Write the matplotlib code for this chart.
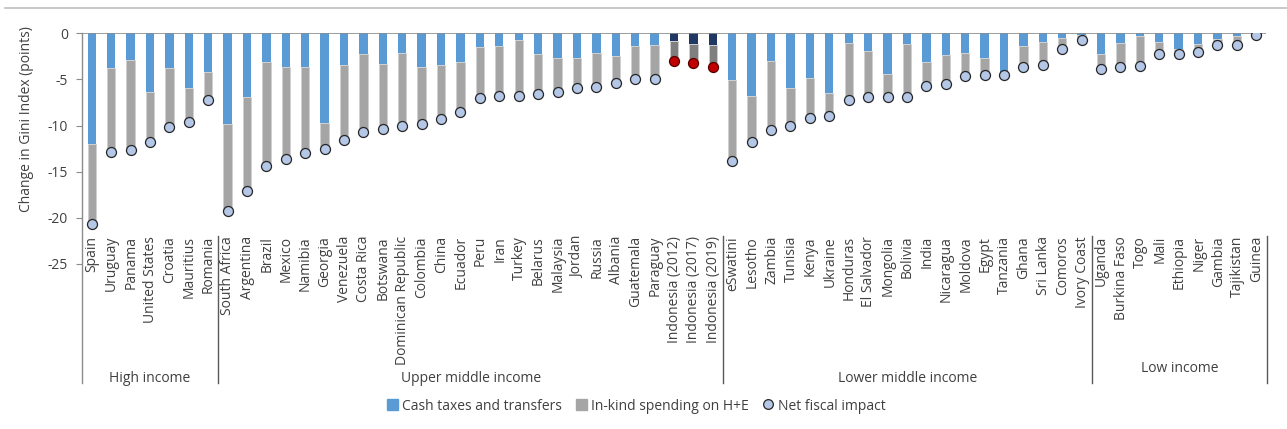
import matplotlib
matplotlib.use("Agg")
import matplotlib.pyplot as plt
from matplotlib.patches import Patch
from matplotlib.lines import Line2D

countries = ["Spain", "Uruguay", "Panama", "United States", "Croatia", "Mauritius", "Romania",
             "South Africa", "Argentina", "Brazil", "Mexico", "Namibia", "Georgia", "Venezuela",
             "Costa Rica", "Botswana", "Dominican Republic", "Colombia", "China", "Ecuador", "Peru",
             "Iran", "Turkey", "Belarus", "Malaysia", "Jordan", "Russia", "Albania", "Guatemala",
             "Paraguay", "Indonesia (2012)", "Indonesia (2017)", "Indonesia (2019)",
             "eSwatini", "Lesotho", "Zambia", "Tunisia", "Kenya", "Ukraine", "Honduras",
             "El Salvador", "Mongolia", "Bolivia", "India", "Nicaragua", "Moldova", "Egypt",
             "Tanzania", "Ghana", "Sri Lanka", "Comoros", "Ivory Coast",
             "Uganda", "Burkina Faso", "Togo", "Mali", "Ethiopia", "Niger", "Gambia",
             "Tajikistan", "Guinea"]

cash = [-12.0, -3.76, -2.9, -6.4, -3.76, -5.93, -4.2,
        -9.84, -6.9, -3.15, -3.65, -3.65, -9.73, -3.4, -2.25, -3.36, -2.17, -3.65, -3.4,
        -3.15, -1.49, -1.38, -0.76, -2.25, -2.64, -2.68, -2.14, -2.46, -1.41, -1.23,
        -0.84, -1.13, -1.27,
        -5.07, -6.83, -3.0, -5.97, -4.85, -6.51, -1.05, -1.92, -4.41, -1.16, -3.15, -2.39,
        -2.17, -2.64, -4.4, -1.38, -0.94, -0.47, -0.2,
        -2.25, -1.02, -0.26, -0.94, -1.7, -1.15, -0.6, -0.3, -0.05]

inkind = [-8.65, -9.14, -9.75, -5.35, -6.44, -3.65, -3.0,
          -9.46, -10.2, -11.25, -10.02, -9.35, -2.87, -8.17, -8.49, -7.02, -7.93, -6.19, -5.9,
          -5.42, -5.56, -5.42, -6.01, -4.37, -3.73, -3.29, -3.72, -2.9, -3.58, -3.69,
          -2.16, -2.09, -2.42,
          -8.83, -4.92, -7.45, -4.08, -4.3, -2.42, -6.15, -5.02, -2.46, -5.71, -2.57, -3.11,
          -2.43, -1.88, -0.09, -2.24, -2.53, -1.23, -0.56,
          -1.62, -2.6, -3.29, -1.31, -0.5, -0.85, -0.7, -0.93, -0.17]

net = [-20.65, -12.9, -12.65, -11.75, -10.2, -9.58, -7.2,
       -19.3, -17.1, -14.4, -13.67, -13.0, -12.6, -11.57, -10.74, -10.38, -10.1, -9.84, -9.3,
       -8.57, -7.05, -6.8, -6.77, -6.62, -6.37, -5.97, -5.86, -5.36, -4.99, -4.92,
       -3.0, -3.22, -3.69,
       -13.9, -11.75, -10.45, -10.05, -9.15, -8.93, -7.2, -6.94, -6.87, -6.87, -5.72, -5.5,
       -4.6, -4.52, -4.49, -3.62, -3.47, -1.7, -0.76,
       -3.87, -3.62, -3.55, -2.25, -2.2, -2.0, -1.3, -1.23, -0.22]

groups = ["High income", "Upper middle income", "Lower middle income", "Low income"]
group_sizes = [7, 26, 19, 9]
highlight = ["Indonesia (2012)", "Indonesia (2017)", "Indonesia (2019)"]
yticks = [0, -5, -10, -15, -20, -25]

W, H = 1287, 429
fig = plt.figure(figsize=(W / 100, H / 100), dpi=100)
plt.rcParams['font.family'] = ['Open Sans', 'DejaVu Sans']

def fx(px):
    return px / W

def fy(py):
    return 1 - py / H

ax_left, ax_right, ax_top, ax_bot = 82, 1266, 33.3, 263.8
ax = fig.add_axes([fx(ax_left), fy(ax_bot), fx(ax_right - ax_left), (ax_bot - ax_top) / H])

BLUE = "#5B9BD5"
GRAY = "#A5A5A5"
NAVY = "#203864"
DGRAY = "#7F7F7F"
CIRC = "#B4C7E7"
RED = "#C00000"
TXT = "#404040"

bw = 0.43
for i, c in enumerate(countries):
    hl = c in highlight
    ax.bar(i, cash[i], width=bw, color=NAVY if hl else BLUE, zorder=2, linewidth=0)
    ax.bar(i, inkind[i], bottom=cash[i], width=bw, color=DGRAY if hl else GRAY,
           zorder=2, edgecolor="#D0D0D0", linewidth=0.6)
    ax.plot(i, net[i], 'o', ms=7.2, mfc=RED if hl else CIRC,
            mec="#5a0000" if hl else "#262626", mew=0.9, zorder=4)

ax.set_xlim(-0.5, len(countries) - 0.5)
ax.set_ylim(-25, 0)
ax.axhline(0, color="#8C8C8C", lw=1.2, zorder=3)
ax.set_yticks(yticks)
ax.set_yticklabels([str(v) for v in yticks], fontsize=10, color=TXT)
ax.tick_params(axis='y', length=4, width=0.8, color="#8C8C8C", pad=6)
ax.set_xticks([])
for s in ["top", "right", "bottom", "left"]:
    ax.spines[s].set_visible(False)

# left axis line extending into category area
fig.add_artist(Line2D([fx(ax_left), fx(ax_left)], [fy(ax_top), fy(383)],
                      color="#8C8C8C", lw=1.0))

# category labels
x0, step = 92, (1257 - 92) / 60
for i, c in enumerate(countries):
    fig.text(fx(x0 + i * step), fy(236), c, rotation=90, ha="center", va="top",
             fontsize=10, color=TXT)

# group separators and labels
bounds = [0]
for g in group_sizes:
    bounds.append(bounds[-1] + g)
for b in bounds[1:]:
    xb = x0 + (b - 0.5) * step
    fig.add_artist(Line2D([fx(xb), fx(xb)], [fy(236), fy(383)], color="#595959", lw=1.0))
gy = [379, 379, 379, 369]
for k, g in enumerate(groups):
    left = ax_left if k == 0 else x0 + (bounds[k] - 0.5) * step
    right = x0 + (bounds[k + 1] - 0.5) * step
    fig.text(fx((left + right) / 2), fy(gy[k]), g, ha="center", va="center",
             fontsize=10, color=TXT)

# y label
fig.text(fx(27), fy(119), "Change in Gini Index (points)", rotation=90,
         ha="center", va="center", fontsize=10, color=TXT)

# top rule
fig.add_artist(Line2D([fx(5), fx(1287)], [fy(8), fy(8)], color="#BFBFBF", lw=1.2))

handles = [Patch(color=BLUE, label="Cash taxes and transfers"),
           Patch(color=GRAY, label="In-kind spending on H+E"),
           Line2D([], [], marker='o', ls='none', ms=7, mfc=CIRC, mec="#262626", mew=0.9,
                  label="Net fiscal impact")]
fig.legend(handles=handles, loc="center", bbox_to_anchor=(fx(636), fy(406)), ncol=3,
           frameon=False, fontsize=10, handlelength=0.8, handleheight=0.8,
           handletextpad=0.3, columnspacing=1.0, labelcolor=TXT)

fig.savefig("out.png", dpi=100)
